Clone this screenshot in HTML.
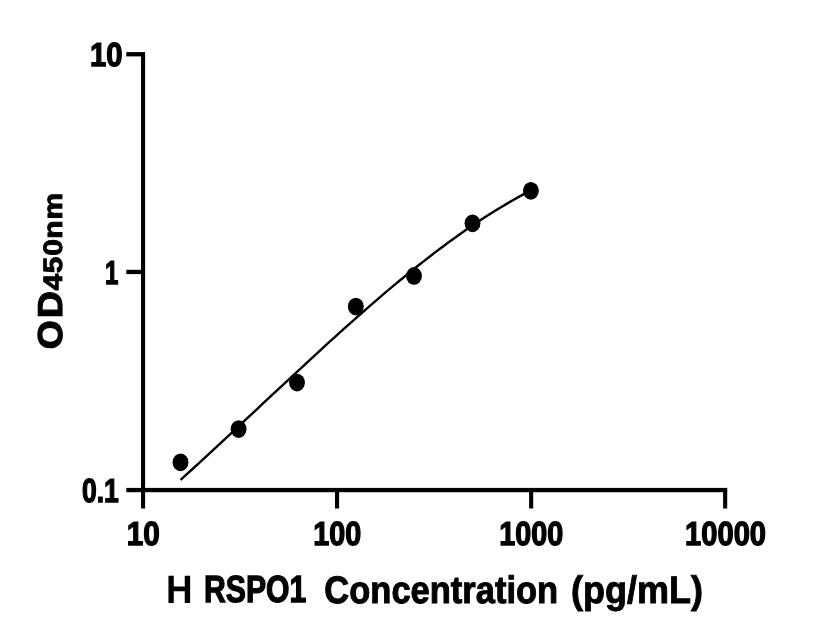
<!DOCTYPE html>
<html><head><meta charset="utf-8"><title>H RSPO1 standard curve</title>
<style>
html,body{margin:0;padding:0;background:#fff;}
svg{display:block;}
text{font-family:"Liberation Sans",sans-serif;font-weight:bold;fill:#000;stroke:#000;stroke-linejoin:miter;text-rendering:geometricPrecision;}
</style></head><body>
<svg width="816" height="640" viewBox="0 0 816 640">
<rect width="816" height="640" fill="#fff"/>
<g fill="#000">
<rect x="141" y="52.1" width="4.1" height="456.4"/>
<rect x="126.3" y="487.9" width="600.9" height="4.3"/>
<rect x="126.3" y="52.1" width="16" height="4.3"/>
<rect x="126.3" y="269.8" width="16" height="4.3"/>
<rect x="335" y="490" width="4.1" height="18.5"/>
<rect x="529.1" y="490" width="4.1" height="18.5"/>
<rect x="723.1" y="490" width="4.1" height="18.5"/>
<ellipse cx="180.5" cy="462.3" rx="7.95" ry="8.85"/><ellipse cx="238.6" cy="429.1" rx="7.95" ry="8.85"/><ellipse cx="297.0" cy="382.6" rx="7.95" ry="8.85"/><ellipse cx="355.8" cy="306.6" rx="7.95" ry="8.85"/><ellipse cx="414.0" cy="275.9" rx="7.95" ry="8.85"/><ellipse cx="472.5" cy="223.3" rx="7.95" ry="8.85"/><ellipse cx="530.9" cy="190.8" rx="7.95" ry="8.85"/>
</g>
<polyline points="180.61,479.81 186.56,474.42 192.50,468.99 198.44,463.55 204.38,458.08 210.32,452.60 216.26,447.09 222.20,441.58 228.14,436.05 234.08,430.51 240.03,424.96 245.97,419.41 251.91,413.85 257.85,408.29 263.79,402.74 269.73,397.18 275.67,391.63 281.61,386.08 287.55,380.55 293.50,375.02 299.44,369.51 305.38,364.01 311.32,358.53 317.26,353.07 323.20,347.63 329.14,342.22 335.08,336.83 341.02,331.47 346.97,326.14 352.91,320.85 358.85,315.59 364.79,310.37 370.73,305.19 376.67,300.05 382.61,294.96 388.55,289.92 394.49,284.93 400.44,279.99 406.38,275.11 412.32,270.29 418.26,265.54 424.20,260.85 430.14,256.22 436.08,251.67 442.02,247.19 447.96,242.78 453.91,238.45 459.85,234.21 465.79,230.04 471.73,225.96 477.67,221.97 483.61,218.06 489.55,214.25 495.49,210.53 501.43,206.90 507.38,203.37 513.32,199.93 519.26,196.59 525.20,193.35 531.14,190.20" fill="none" stroke="#000" stroke-width="2.4" stroke-linecap="butt" stroke-linejoin="round"/>
<text transform="translate(90.07,65.95) scale(0.8765,1)" font-size="33.33" stroke-width="1.3">10</text>
<text transform="translate(104.91,283.75) scale(0.72,1)" font-size="33.33" stroke-width="1.3">1</text>
<text transform="translate(81.96,501.65) scale(0.7947,1)" font-size="33.33" stroke-width="1.3">0.1</text>
<text transform="translate(126.7,544.85) scale(0.8923,1)" font-size="33.33" stroke-width="1.3">10</text>
<text transform="translate(313.24,544.85) scale(0.8614,1)" font-size="33.33" stroke-width="1.3">100</text>
<text transform="translate(499.24,544.85) scale(0.8629,1)" font-size="33.33" stroke-width="1.3">1000</text>
<text transform="translate(685.07,544.85) scale(0.8733,1)" font-size="33.33" stroke-width="1.3">10000</text>
<text transform="translate(166.05,603.18) scale(0.9288,1)" font-size="39.64" stroke-width="0.05">H</text>
<text transform="translate(204.01,602.35) scale(0.7976,1)" font-size="37.83" stroke-width="1.3">RSPO1</text>
<text transform="translate(324.37,602.7) scale(0.9015,1)" font-size="38.26" stroke-width="1.0">Concentration</text>
<text transform="translate(570.92,602.75) scale(0.9376,1)" font-size="38.41" stroke-width="0.9">(pg/mL)</text>
<text transform="translate(62.3,348.0) rotate(-90) scale(1.08,1)" font-size="34.49" stroke-width="1.2" dx="-1.09 2.11">OD</text>
<text transform="translate(62.45,290.1) rotate(-90) scale(1.12,1)" font-size="26.67" stroke-width="0.9" dx="-0.28 0.53 0.80 0.36 0.82">450nm</text>

</svg>
</body></html>
